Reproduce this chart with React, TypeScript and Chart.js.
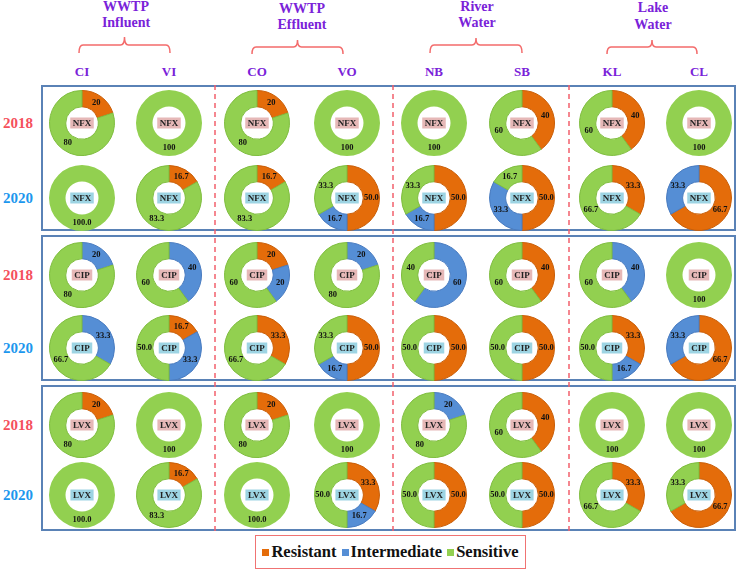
import React, { useEffect, useRef } from "react";
import { Chart, registerables } from "chart.js";

Chart.register(...registerables);

// ---------- DATA ----------
const categories = ["Resistant", "Intermediate", "Sensitive"];
const sites = ["CI", "VI", "CO", "VO", "NB", "SB", "KL", "CL"];
const groups = [
  ["WWTP", "Influent"],
  ["WWTP", "Effluent"],
  ["River", "Water"],
  ["Lake", "Water"],
];
const years = ["2018", "2020"];
const antibiotics = ["NFX", "CIP", "LVX"];

// each entry: [Resistant, Intermediate, Sensitive] (%) for sites CI..CL
const nfx2018 = [[20, 0, 80], [0, 0, 100], [20, 0, 80], [0, 0, 100], [0, 0, 100], [40, 0, 60], [40, 0, 60], [0, 0, 100]];
const nfx2020 = [[0, 0, 100], [16.7, 0, 83.3], [16.7, 0, 83.3], [50, 16.7, 33.3], [50, 16.7, 33.3], [50, 33.3, 16.7], [33.3, 0, 66.7], [66.7, 33.3, 0]];
const cip2018 = [[0, 20, 80], [0, 40, 60], [20, 20, 60], [0, 20, 80], [0, 60, 40], [40, 0, 60], [0, 40, 60], [0, 0, 100]];
const cip2020 = [[0, 33.3, 66.7], [16.7, 33.3, 50], [33.3, 0, 66.7], [50, 16.7, 33.3], [50, 0, 50], [50, 0, 50], [33.3, 16.7, 50], [66.7, 33.3, 0]];
const lvx2018 = [[20, 0, 80], [0, 0, 100], [20, 0, 80], [0, 0, 100], [0, 20, 80], [40, 0, 60], [0, 0, 100], [0, 0, 100]];
const lvx2020 = [[0, 0, 100], [16.7, 0, 83.3], [0, 0, 100], [33.3, 16.7, 50], [50, 0, 50], [50, 0, 50], [33.3, 0, 66.7], [66.7, 0, 33.3]];

const drugRows = [
  [nfx2018, nfx2020],
  [cip2018, cip2020],
  [lvx2018, lvx2020],
];

// ---------- STYLE / LAYOUT ----------
const FILLS = ["#e46c0a", "#558ed5", "#92d050"];
const BORDERS = ["#c95e08", "#4a7cc0", "#7fbd3f"];
const COL_X = [82, 169, 257, 347, 434, 522, 612, 699];
const ROW_Y = [[123, 198], [275, 348], [425, 495]];
const BOX_TOP = [85, 235, 385];
const BOX_H = 146;
const GROUP_X = [126, 302, 477, 653];
const BRACE = [
  [79, 170, 37, 45, 53],
  [252, 343, 40, 47, 54],
  [430, 522, 38, 45, 53],
  [607, 697, 40, 47, 54],
];
const HEADER_Y = [[7, 23], [9, 25], [7, 23], [8, 25]];
const DASH_X = [215, 393, 569];
const SIZE = 80;
const FONT = "'Liberation Serif', 'DejaVu Serif', serif";
const YEAR_COLORS = ["#f5505c", "#1c97ee"];
const TAG_BG = ["#e6b8b7", "#9dd4e3"];
const PURPLE = "#7a22d9";

function makeLabelPlugin(yearIdx: number, drug: string) {
  return {
    id: "donutLabels",
    afterDatasetsDraw(chart: any) {
      const ctx = chart.ctx as CanvasRenderingContext2D;
      const meta = chart.getDatasetMeta(0);
      const values = chart.data.datasets[0].data as number[];
      ctx.save();
      ctx.textAlign = "center";
      ctx.textBaseline = "middle";
      ctx.fillStyle = "#111";
      ctx.font = `bold 8.5px ${FONT}`;
      meta.data.forEach((arc: any, i: number) => {
        const v = values[i];
        if (!v) return;
        const p = arc.getProps(["x", "y", "startAngle", "endAngle", "innerRadius", "outerRadius"], true);
        const a = (p.startAngle + p.endAngle) / 2;
        const r = (p.innerRadius + p.outerRadius) / 2;
        const txt = yearIdx === 0 ? String(Math.round(v)) : v.toFixed(1);
        ctx.fillText(txt, p.x + Math.cos(a) * r, p.y + Math.sin(a) * r);
      });
      const c = meta.data[0].getProps(["x", "y"], true);
      ctx.font = `bold 9px ${FONT}`;
      const w = ctx.measureText(drug).width + 5;
      const h = 11;
      ctx.fillStyle = TAG_BG[yearIdx];
      ctx.fillRect(c.x - w / 2, c.y - h / 2, w, h);
      ctx.fillStyle = "#222";
      ctx.fillText(drug, c.x, c.y + 0.5);
      ctx.restore();
    },
  };
}

function Donut({ values, yearIdx, drug, cx, cy }: { values: number[]; yearIdx: number; drug: string; cx: number; cy: number }) {
  const ref = useRef<HTMLCanvasElement>(null);
  useEffect(() => {
    const full = values.some((v) => v >= 100);
    const chart = new Chart(ref.current as HTMLCanvasElement, {
      type: "doughnut",
      data: {
        labels: categories,
        datasets: [
          {
            data: values,
            backgroundColor: FILLS,
            borderColor: BORDERS,
            borderWidth: values.map((v) => (v > 0 && !full ? 1 : 0)),
          },
        ],
      },
      options: {
        animation: false,
        responsive: false,
        maintainAspectRatio: false,
        cutout: "50%",
        events: [],
        layout: { padding: 7 },
        plugins: { legend: { display: false }, tooltip: { enabled: false } },
      } as any,
      plugins: [makeLabelPlugin(yearIdx, drug)],
    });
    return () => chart.destroy();
  }, []);
  return (
    <canvas
      ref={ref}
      width={SIZE}
      height={SIZE}
      style={{ position: "absolute", left: cx - SIZE / 2, top: cy - SIZE / 2, width: SIZE, height: SIZE }}
    />
  );
}

function Txt({ x, y, size, color, children }: { x: number; y: number; size: number; color: string; children: React.ReactNode }) {
  return (
    <div
      style={{
        position: "absolute",
        left: x,
        top: y,
        transform: "translate(-50%, -50%)",
        fontSize: size,
        color,
        fontWeight: "bold",
        whiteSpace: "nowrap",
        lineHeight: 1,
        fontFamily: FONT,
      }}
    >
      {children}
    </div>
  );
}

export default function App() {
  return (
    <div style={{ position: "absolute", left: 0, top: 0, width: 740, height: 571, background: "#fff", overflow: "hidden", fontFamily: FONT }}>
      {groups.map((g, i) => (
        <React.Fragment key={"g" + i}>
          <Txt x={GROUP_X[i]} y={HEADER_Y[i][0]} size={14} color={PURPLE}>{g[0]}</Txt>
          <Txt x={GROUP_X[i]} y={HEADER_Y[i][1]} size={14} color={PURPLE}>{g[1]}</Txt>
        </React.Fragment>
      ))}
      <svg width={740} height={571} style={{ position: "absolute", left: 0, top: 0 }}>
        {BRACE.map(([x1, x2, yt, yl, ye], i) => {
          const xm = (x1 + x2) / 2;
          const d = `M${x1},${ye} Q${x1},${yl} ${x1 + 4},${yl} L${xm - 4},${yl} Q${xm},${yl} ${xm},${yt} Q${xm},${yl} ${xm + 4},${yl} L${x2 - 4},${yl} Q${x2},${yl} ${x2},${ye}`;
          return <path key={"b" + i} d={d} fill="none" stroke="#f36b6b" strokeWidth={1.5} />;
        })}
        {BOX_TOP.map((t, i) => (
          <rect key={"r" + i} x={42} y={t + 1} width={693} height={BOX_H - 2} fill="none" stroke="#5a82b6" strokeWidth={2} />
        ))}
        {DASH_X.map((x, i) => (
          <line key={"d" + i} x1={x} y1={85} x2={x} y2={531} stroke="#f2606c" strokeWidth={1.5} strokeDasharray="5,4" />
        ))}
      </svg>
      {sites.map((s, i) => (
        <Txt key={"s" + s} x={COL_X[i]} y={71} size={13} color={PURPLE}>{s}</Txt>
      ))}
      {ROW_Y.map((ys, r) =>
        ys.map((y, yi) => (
          <Txt key={"y" + r + yi} x={18} y={y} size={15} color={YEAR_COLORS[yi]}>{years[yi]}</Txt>
        ))
      )}
      {drugRows.map((pair, r) =>
        pair.map((rows, yi) =>
          rows.map((vals, c) => (
            <Donut key={`${r}-${yi}-${c}`} values={vals} yearIdx={yi} drug={antibiotics[r]} cx={COL_X[c]} cy={ROW_Y[r][yi]} />
          ))
        )
      )}
      <div
        style={{
          position: "absolute",
          left: 255,
          top: 535,
          width: 271,
          height: 34,
          boxSizing: "border-box",
          border: "1.5px solid #f07373",
          display: "flex",
          alignItems: "center",
          justifyContent: "center",
          gap: 5,
          fontWeight: "bold",
          fontSize: 16.5,
          color: "#111",
        }}
      >
        {categories.map((c, i) => (
          <span key={c} style={{ display: "flex", alignItems: "center", gap: 2 }}>
            <span style={{ display: "inline-block", width: 7, height: 7, background: FILLS[i] }} />
            <span>{c}</span>
          </span>
        ))}
      </div>
    </div>
  );
}
